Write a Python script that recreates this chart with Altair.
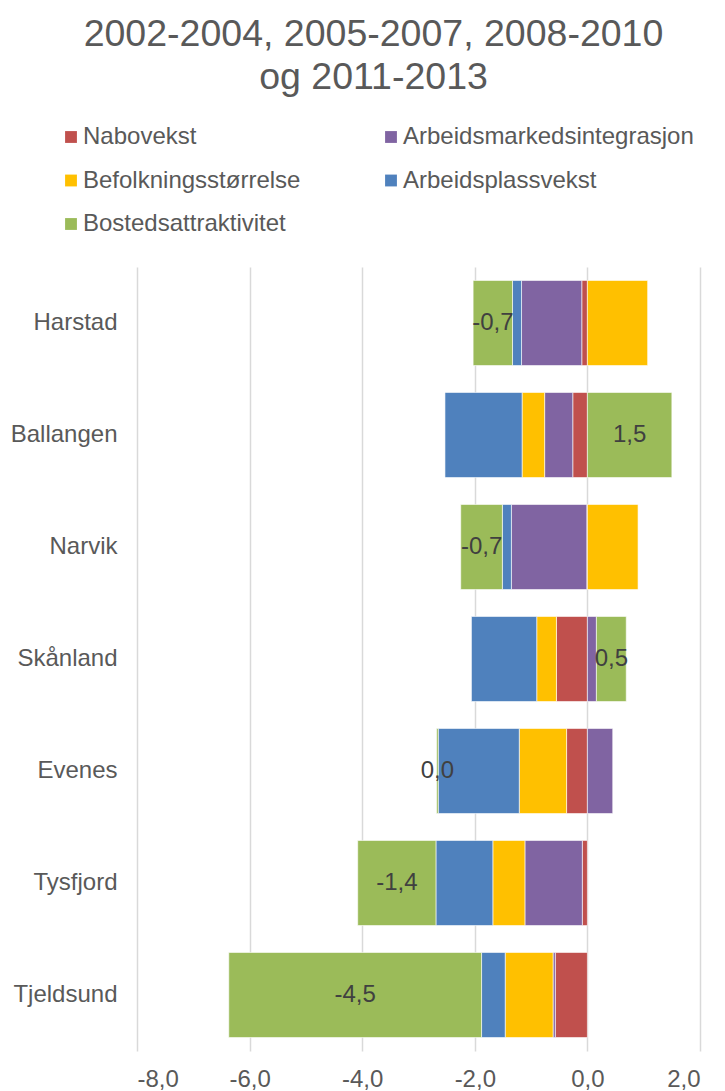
import altair as alt
import pandas as pd

regions = ["Harstad", "Ballangen", "Narvik", "Skånland", "Evenes", "Tysfjord", "Tjeldsund"]
series = ["Nabovekst", "Arbeidsmarkedsintegrasjon", "Befolkningsstørrelse",
          "Arbeidsplassvekst", "Bostedsattraktivitet"]
colors = {"Nabovekst": "#C0504D", "Arbeidsmarkedsintegrasjon": "#8064A2",
          "Befolkningsstørrelse": "#FFC000", "Arbeidsplassvekst": "#4F81BD",
          "Bostedsattraktivitet": "#9BBB59"}
# legend fills column by column; this order shows it row by row like the original
legend_order = ["Nabovekst", "Befolkningsstørrelse", "Bostedsattraktivitet",
                "Arbeidsmarkedsintegrasjon", "Arbeidsplassvekst"]

nabovekst = [-0.10, -0.26, -0.01, -0.55, -0.37, -0.09, -0.57]
arbeidsmarked = [-1.07, -0.50, -1.34, 0.16, 0.45, -1.02, -0.04]
befolkning = [1.07, -0.40, 0.90, -0.35, -0.84, -0.57, -0.85]
arbeidsplass = [-0.16, -1.37, -0.16, -1.16, -1.44, -1.01, -0.42]
bosted = [-0.70, 1.50, -0.74, 0.53, -0.03, -1.39, -4.49]

x_ticks = [-8, -6, -4, -2, 0, 2]
title_lines = ["2002-2004, 2005-2007, 2008-2010", "og 2011-2013"]


def fmt(v):
    r = round(v, 1)
    if r == 0:
        r = 0.0
    return f"{r:.1f}".replace(".", ",")


rows = []
for i, (name, vals) in enumerate(zip(series, [nabovekst, arbeidsmarked, befolkning, arbeidsplass, bosted])):
    for reg, v in zip(regions, vals):
        rows.append({"region": reg, "serie": name, "value": v, "order": i,
                     "label": fmt(v) if name == "Bostedsattraktivitet" else ""})
df = pd.DataFrame(rows)

FONT = "Liberation Sans"
GREY = "#595959"
FS = 24
xscale = alt.Scale(domain=[-8, 2], nice=False, zero=False)
yscale = alt.Scale(domain=regions, paddingInner=0.24, paddingOuter=0.12)

x_axis = alt.Axis(values=x_ticks, title=None, grid=True, gridColor="#d9d9d9",
                  gridWidth=1.5, domain=False, ticks=False, labelFontSize=FS,
                  labelColor=GREY, labelFont=FONT, labelPadding=16,
                  labelExpr="(datum.value < 0 ? '-' : '') + replace(format(abs(datum.value), '.1f'), '.', ',')")
y_axis = alt.Axis(title=None, domain=False, ticks=False, grid=False, labelFontSize=FS,
                  labelColor=GREY, labelFont=FONT, labelPadding=20)

bars = alt.Chart(df).mark_bar(stroke="white", strokeWidth=0.6).encode(
    x=alt.X("value:Q", scale=xscale, stack="zero", axis=x_axis),
    y=alt.Y("region:N", scale=yscale, sort=regions, axis=y_axis),
    color=alt.Color("serie:N",
                    scale=alt.Scale(domain=legend_order, range=[colors[s] for s in legend_order]),
                    legend=alt.Legend(title=None, orient="none", legendX=-78, legendY=-142,
                                      columns=2, columnPadding=78, rowPadding=19.5,
                                      symbolType="square", symbolSize=140, symbolStrokeWidth=0,
                                      labelFontSize=FS, labelColor=GREY, labelFont=FONT,
                                      labelOffset=0, labelLimit=400)),
    order=alt.Order("order:Q", sort="ascending"),
)

labels = alt.Chart(df).transform_stack(
    stack="value", as_=["x0", "x1"], groupby=["region"],
    sort=[alt.SortField("order", "ascending")], offset="zero"
).transform_filter(
    "datum.serie == 'Bostedsattraktivitet'"
).transform_calculate(
    mid="(datum.x0 + datum.x1) / 2"
).mark_text(fontSize=FS, color="#404040", font=FONT).encode(
    x=alt.X("mid:Q", scale=xscale, axis=x_axis),
    y=alt.Y("region:N", scale=yscale, sort=regions, axis=y_axis),
    text="label:N",
)

chart = alt.layer(bars, labels).properties(
    width=563, height=784,
    autosize=alt.AutoSizeParams(type="none"),
    padding={"left": 129, "top": 259, "right": 17, "bottom": 40},
    title=alt.TitleParams(title_lines, fontSize=37.5, font=FONT, color=GREY, fontWeight="normal",
                          lineHeight=43, anchor="middle", frame="group", dx=-45, dy=-25),
).configure_view(stroke=None)

chart.save("out.html", embed_options={"renderer": "svg", "actions": False})
